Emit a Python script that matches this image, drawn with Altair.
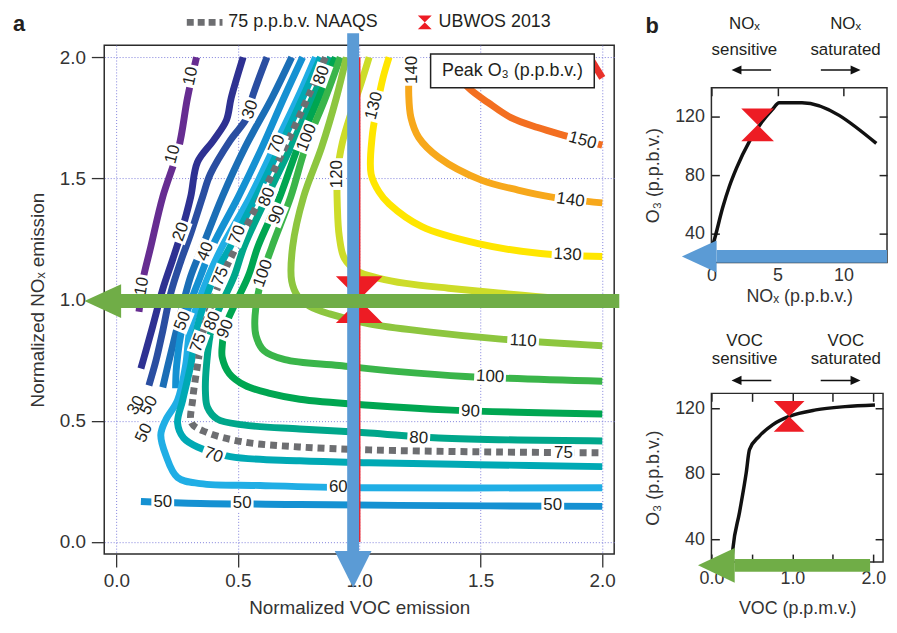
import altair as alt
import pandas as pd

FONT = "Liberation Sans"
INK = "#231f20"
AXC = "#333333"

# ---------------- panel a : peak O3 contour lines (normalized VOC, normalized NOx) ----------------
c10 = [(0.330, 2.000), (0.293, 1.833), (0.257, 1.628), (0.191, 1.424), (0.142, 1.219), (0.109, 1.080), (0.101, 1.010), (0.093, 0.950)]
c20 = [(0.522, 2.000), (0.473, 1.833), (0.453, 1.740), (0.400, 1.657), (0.334, 1.567), (0.306, 1.424), (0.265, 1.270), (0.232, 1.166), (0.191, 1.043), (0.150, 0.891), (0.122, 0.790), (0.101, 0.716)]
c30 = [(0.620, 2.000), (0.559, 1.833), (0.538, 1.751), (0.469, 1.657), (0.387, 1.518), (0.355, 1.424), (0.306, 1.272), (0.265, 1.158), (0.224, 1.027), (0.191, 0.871), (0.163, 0.748), (0.134, 0.646)]
c40 = [(0.722, 2.000), (0.641, 1.833), (0.530, 1.628), (0.436, 1.424), (0.355, 1.219), (0.306, 1.096), (0.252, 0.891), (0.212, 0.728), (0.191, 0.638)]
c50 = [(0.767, 2.000), (0.690, 1.833), (0.600, 1.628), (0.502, 1.424), (0.395, 1.219), (0.346, 1.096), (0.273, 0.891), (0.248, 0.728), (0.244, 0.634)]
c50_low = [(0.101, 0.167), (0.346, 0.159), (0.755, 0.155), (1.164, 0.151), (2.001, 0.147)]
c60 = [(0.820, 2.000), (0.747, 1.833), (0.649, 1.628), (0.551, 1.424), (0.436, 1.219), (0.379, 1.096), (0.306, 0.891), (0.285, 0.728), (0.252, 0.585), (0.203, 0.503), (0.183, 0.442), (0.203, 0.360), (0.252, 0.266), (0.346, 0.241), (0.592, 0.233), (1.000, 0.224), (2.001, 0.224)]
c70 = [(0.841, 2.000), (0.767, 1.833), (0.673, 1.628), (0.575, 1.424), (0.469, 1.219), (0.404, 1.096), (0.334, 0.891), (0.306, 0.728), (0.273, 0.585), (0.252, 0.491), (0.277, 0.429), (0.334, 0.392), (0.469, 0.352), (0.755, 0.335), (1.041, 0.327), (1.490, 0.319), (2.001, 0.311)]
c75 = [(0.861, 2.000), (0.788, 1.833), (0.694, 1.628), (0.596, 1.424), (0.494, 1.219), (0.436, 1.096), (0.363, 0.891), (0.334, 0.728), (0.314, 0.585), (0.310, 0.491), (0.367, 0.454), (0.522, 0.413), (0.755, 0.392), (1.041, 0.380), (1.490, 0.372), (2.001, 0.368)]
c80 = [(0.882, 2.000), (0.808, 1.833), (0.718, 1.628), (0.620, 1.424), (0.526, 1.219), (0.485, 1.096), (0.395, 0.891), (0.371, 0.728), (0.367, 0.613), (0.375, 0.556), (0.416, 0.507), (0.522, 0.483), (0.755, 0.466), (1.041, 0.450), (1.327, 0.429), (2.001, 0.417)]
c90 = [(0.902, 2.000), (0.833, 1.833), (0.747, 1.628), (0.673, 1.424), (0.583, 1.219), (0.543, 1.096), (0.449, 0.891), (0.436, 0.810), (0.436, 0.761), (0.465, 0.695), (0.530, 0.646), (0.632, 0.613), (0.755, 0.589), (1.041, 0.564), (1.380, 0.544), (2.001, 0.528)]
c100 = [(0.922, 2.000), (0.861, 1.833), (0.779, 1.628), (0.718, 1.424), (0.641, 1.219), (0.600, 1.096), (0.571, 0.933), (0.575, 0.851), (0.608, 0.789), (0.694, 0.752), (0.918, 0.728), (1.164, 0.703), (1.437, 0.683), (2.001, 0.663)]
c110 = [(0.947, 2.000), (0.906, 1.833), (0.845, 1.628), (0.771, 1.424), (0.726, 1.219), (0.722, 1.076), (0.747, 1.014), (0.796, 0.973), (0.878, 0.941), (1.041, 0.900), (1.286, 0.867), (1.572, 0.838), (2.001, 0.810)]
c120 = [(1.041, 2.000), (1.008, 1.894), (0.967, 1.772), (0.931, 1.649), (0.910, 1.518), (0.910, 1.383), (0.918, 1.260), (0.939, 1.170), (0.992, 1.117), (1.082, 1.088), (1.192, 1.067), (1.368, 1.047), (1.572, 1.027), (1.817, 1.006), (2.001, 0.994)]
c130 = [(1.123, 2.000), (1.098, 1.915), (1.074, 1.800), (1.053, 1.669), (1.049, 1.518), (1.082, 1.444), (1.123, 1.395), (1.258, 1.301), (1.490, 1.231), (1.747, 1.190), (2.001, 1.178)]
c140 = [(1.208, 2.000), (1.204, 1.845), (1.213, 1.751), (1.245, 1.669), (1.327, 1.587), (1.503, 1.493), (1.654, 1.452), (1.788, 1.424), (2.001, 1.399)]
c150 = [(1.347, 2.000), (1.450, 1.874), (1.531, 1.813), (1.625, 1.751), (1.735, 1.710), (1.829, 1.682), (2.001, 1.637)]
c160 = [(1.949, 2.000), (2.001, 1.915)]

contour_levels = ["10", "20", "30", "40", "50", "60", "70", "80", "90", "100", "110", "120", "130", "140", "150", "160"]
contour_colors = ["#662d91", "#2e3192", "#2a4ea1", "#1b6eb6", "#1591d2", "#20aee5", "#00a9b4", "#00a78b",
                  "#00a651", "#3ab54a", "#8dc63f", "#cddc29", "#ffe600", "#f7a81b", "#f36f21", "#e8312a"]

paths = [("10", "10", c10), ("20", "20", c20), ("30", "30", c30), ("40", "40", c40), ("50", "50", c50),
         ("50b", "50", c50_low), ("60", "60", c60), ("70", "70", c70), ("80", "80", c80), ("90", "90", c90),
         ("100", "100", c100), ("110", "110", c110), ("120", "120", c120), ("130", "130", c130),
         ("140", "140", c140), ("150", "150", c150), ("160", "160", c160)]

# contour labels
lab_text = ["10", "10", "10", "30", "20", "40", "70", "75", "70", "80", "80", "90", "100", "100", "120", "130", "140",
            "50", "80", "90", "75", "30", "50", "50", "70", "60", "50", "50", "50", "75", "80", "90", "100", "110",
            "120", "130", "140", "150"]
lab_x = [0.306, 0.232, 0.105, 0.551, 0.265, 0.367, 0.498, 0.428, 0.661, 0.845, 0.620, 0.661, 0.784, 0.604, 0.910,
         1.061, 1.217, 0.273, 0.395, 0.449, 0.338, 0.081, 0.134, 0.114, 0.400, 0.914, 0.191, 0.518, 1.797, 1.841,
         1.245, 1.458, 1.539, 1.675, 1.907, 1.858, 1.870, 1.920]
lab_y = [1.922, 1.600, 1.055, 1.784, 1.280, 1.199, 1.268, 1.096, 1.641, 1.927, 1.424, 1.350, 1.669, 1.108, 1.518,
         1.800, 1.948, 0.912, 0.912, 0.879, 0.822, 0.564, 0.564, 0.450, 0.359, 0.228, 0.163, 0.159, 0.151, 0.368,
         0.429, 0.539, 0.683, 0.830, 0.994, 1.186, 1.411, 1.657]
lab_ang = [282, 285, 280, 290, 290, 292, 292, 292, 292, 290, 292, 292, 292, 290, 270, 285, 270, 292, 292, 292, 290,
           300, 300, 295, 20, 0, 0, 0, 0, 0, 3, 3, 3, 3, 3, 3, 8, 15]

# UBWOS 2013 point in panel a
ubwos_voc = [1.0]
ubwos_nox = [1.0]

# ---------------- panel b ----------------
nox_ppb = [0.05, 0.25, 0.85, 1.37, 1.90, 2.88, 3.85, 4.61, 5.13, 6.86, 12.49]
nox_o3 = [30.0, 36.4, 57.5, 72.5, 84.8, 103.2, 116.8, 125.0, 129.8, 129.8, 101.8]
voc_ppm = [0.25, 0.265, 0.347, 0.43, 0.47, 0.59, 0.755, 0.96, 1.29, 1.65, 2.02]
voc_o3 = [26.0, 34.0, 56.3, 80.5, 94.6, 102.8, 109.8, 114.9, 118.9, 120.9, 121.9]
ubwos_nox_ppb, ubwos_nox_o3 = [3.5], [114.6]
ubwos_voc_ppm, ubwos_voc_o3 = [0.96], [114.9]

# ---------------- shapes ----------------
HOURGLASS = "M-1,-1L1,-1L-1,1L1,1Z"
TRI_DOWN = "M-1,-1L1,-1L0,1Z"
TRI_LEFT = "M1,-0.92L1,0.92L-1,0Z"
TRI_RIGHT = "M-1,-0.92L-1,0.92L1,0Z"
BOX2 = "M-1,-0.74L1,-0.74L1,0.74L-1,0.74Z"
BOX3 = "M-1,-0.53L1,-0.53L1,0.53L-1,0.53Z"

# ---------------- frames ----------------
rows = []
for seg, lev, pts in paths:
    for i, (x, y) in enumerate(pts):
        rows.append(dict(seg=seg, level=lev, i=i, x=x, y=y))
cdf = pd.DataFrame(rows)
df75 = pd.DataFrame({"i": range(len(c75)), "x": [p[0] for p in c75], "y": [p[1] for p in c75]})
ldf = pd.DataFrame({"t": lab_text, "x": lab_x, "y": lab_y, "ang": lab_ang})
ldf["n"] = ldf["t"].str.len().astype(str)
ldf["bs"] = ldf["n"].map({"2": 529, "3": 1024})


def P(**kw):
    return pd.DataFrame({k: (v if isinstance(v, list) else [v]) for k, v in kw.items()})


# ---------------- panel a chart ----------------
xA = alt.Scale(domain=[-0.05, 2.05], nice=False, zero=False)
yA = alt.Scale(domain=[-0.05, 2.05], nice=False, zero=False)

common_ax = dict(values=[0, 0.5, 1, 1.5, 2], format=".1f", tickSize=13, tickWidth=1.3, tickColor=AXC,
                 domain=False, grid=True, gridColor="#7f7fdc", gridDash=[1, 2], gridWidth=1,
                 labelFont=FONT, labelFontSize=19, labelColor=AXC, labelFlush=False,
                 titleFont=FONT, titleFontSize=19, titleFontWeight="normal", titleColor=AXC)
axAx = alt.Axis(title="Normalized VOC emission", labelPadding=5, titlePadding=8, **common_ax)
axAy = alt.Axis(title="Normalized NOₓ emission", labelPadding=6, titlePadding=12, **common_ax)


def XA(f="x"):
    return alt.X(f"{f}:Q", scale=xA, axis=axAx)


def YA(f="y"):
    return alt.Y(f"{f}:Q", scale=yA, axis=axAy)


contours = alt.Chart(cdf).mark_line(strokeWidth=7, interpolate="catmull-rom", strokeCap="butt").encode(
    x=XA(), y=YA(),
    color=alt.Color("level:N", scale=alt.Scale(domain=contour_levels, range=contour_colors), legend=None),
    detail="seg:N",
    order=alt.Order("i:Q"),
)
naaqs = alt.Chart(df75).mark_line(strokeWidth=7, strokeDash=[7, 5], color="#6d6e71",
                                  interpolate="catmull-rom", strokeCap="butt").encode(
    x=XA(), y=YA(), order=alt.Order("i:Q"))

red_line = alt.Chart(P(x=ubwos_voc, y=[0.0], y2=[2.0])).mark_rule(color="#ed1c24", strokeWidth=2.5).encode(
    x=XA(), y=YA(), y2="y2:Q")

lab_boxes = alt.Chart(ldf).mark_point(filled=True, color="white", opacity=1, strokeWidth=0).encode(
    x=XA(), y=YA(),
    shape=alt.Shape("n:N", scale=alt.Scale(domain=["2", "3"], range=[BOX2, BOX3]), legend=None),
    size=alt.Size("bs:Q", scale=None),
    angle=alt.Angle("ang:Q", scale=None),
)
lab_txt = alt.Chart(ldf).mark_text(font=FONT, fontSize=17, color=INK, align="center", baseline="middle").encode(
    x=XA(), y=YA(), text="t:N", angle=alt.Angle("ang:Q", scale=None))

peak_box = alt.Chart(P(x=1.294, x2=1.968, y=2.013, y2=1.874)).mark_rect(
    fill="white", stroke="#222222", strokeWidth=1.5).encode(x=XA(), x2="x2:Q", y=YA(), y2="y2:Q")
peak_txt = alt.Chart(P(x=1.631, y=1.942, t="Peak O₃ (p.p.b.v.)")).mark_text(
    font=FONT, fontSize=18, color=INK, align="center", baseline="middle").encode(x=XA(), y=YA(), text="t:N")

ubwos_a = alt.Chart(P(x=ubwos_voc, y=ubwos_nox)).mark_point(
    shape=HOURGLASS, filled=True, color="#ed1c24", size=2209, opacity=1, strokeWidth=0).encode(x=XA(), y=YA())

# annotation arrows (shafts as filled rects, heads as triangles)
blue_shaft = alt.Chart(P(x=0.9505, x2=0.9995, y=2.099, y2=-0.066)).mark_rect(color="#5b9bd5").encode(
    x=XA(), x2="x2:Q", y=YA(), y2="y2:Q")
blue_head = alt.Chart(P(x=0.975, y=-0.113)).mark_point(
    shape=TRI_DOWN, filled=True, color="#5b9bd5", size=1369, opacity=1, strokeWidth=0).encode(x=XA(), y=YA())
green_shaft = alt.Chart(P(x=0.011, x2=2.071, y=1.023, y2=0.965)).mark_rect(color="#70ad47").encode(
    x=XA(), x2="x2:Q", y=YA(), y2="y2:Q")
green_head = alt.Chart(P(x=-0.056, y=0.994)).mark_point(
    shape=TRI_LEFT, filled=True, color="#70ad47", size=1369, opacity=1, strokeWidth=0).encode(x=XA(), y=YA())

leg_dots = alt.Chart(P(x=0.290, x2=0.437, y=2.144)).mark_rule(
    color="#6d6e71", strokeWidth=7, strokeDash=[7, 4]).encode(x=XA(), x2="x2:Q", y=YA())
leg_txt = alt.Chart(P(x=[0.461, 1.327], y=[2.144, 2.144], t=["75 p.p.b.v. NAAQS", "UBWOS 2013"])).mark_text(
    font=FONT, fontSize=18, color=INK, align="left", baseline="middle").encode(x=XA(), y=YA(), text="t:N")
leg_hg = alt.Chart(P(x=1.270, y=2.144)).mark_point(
    shape=HOURGLASS, filled=True, color="#ed1c24", size=196, opacity=1, strokeWidth=0).encode(x=XA(), y=YA())
tag_a = alt.Chart(P(x=-0.401, y=2.136, t="a")).mark_text(
    font=FONT, fontSize=22, fontWeight="bold", color=INK, align="center", baseline="middle").encode(
    x=XA(), y=YA(), text="t:N")
anch_a = alt.Chart(P(x=[-0.438, 2.103], y=[2.185, 1.0])).mark_point(
    filled=True, opacity=0, size=1).encode(x=XA(), y=YA())

panel_a = alt.layer(contours, naaqs, red_line, lab_boxes, lab_txt, peak_box, peak_txt, ubwos_a,
                    blue_shaft, blue_head, green_shaft, green_head, leg_dots, leg_txt, leg_hg, tag_a,
                    anch_a).properties(width=514, height=513)


# ---------------- panel b charts ----------------
def b_axes(xvals, yvals, xtitle, ytitle, xlabpad, xtitlepad, label_expr=None):
    base = dict(offset=-8, tickSize=8, tickWidth=1.5, tickColor="#222222", domain=False, grid=False,
                labelFont=FONT, labelFontSize=18, labelColor=AXC, labelFlush=False, minExtent=0,
                titleFont=FONT, titleFontSize=18, titleFontWeight="normal", titleColor=AXC)
    xkw = dict(orient="bottom", values=xvals, labelPadding=xlabpad, title=xtitle, titlePadding=xtitlepad, **base)
    if label_expr:
        xkw["labelExpr"] = label_expr
    ax_x = alt.Axis(**xkw)
    ax_y = alt.Axis(orient="left", values=yvals, labelPadding=7, title=ytitle, titlePadding=12, **base)
    tk = dict(offset=-8, tickSize=8, tickWidth=1.5, tickColor="#222222", domain=False, grid=False,
              labels=False, title=None, minExtent=0, maxExtent=0)
    ax_top = alt.Axis(orient="top", values=xvals, **tk)
    ax_right = alt.Axis(orient="right", values=yvals, **tk)
    return ax_x, ax_y, ax_top, ax_right


def small_arrows(xs, ys, X, Y):
    parts = []
    for (t0, t1, hx, shape) in xs:
        parts.append(alt.Chart(P(x=t0, x2=t1, y=ys)).mark_rule(color="#111111", strokeWidth=1.5).encode(
            x=X(), x2="x2:Q", y=Y()))
        parts.append(alt.Chart(P(x=hx, y=ys)).mark_point(
            shape=shape, filled=True, color="#111111", size=100, opacity=1, strokeWidth=0).encode(x=X(), y=Y()))
    return parts


# header strip above b (top): regime labels
xS = alt.Scale(domain=[0, 13.3], nice=False, zero=False)
yS = alt.Scale(domain=[0, 30], nice=False, zero=False)


def XS(f="x"):
    return alt.X(f"{f}:Q", scale=xS, axis=None)


def YS(f="y"):
    return alt.Y(f"{f}:Q", scale=yS, axis=None)


s_txt = alt.Chart(P(x=[2.5, 2.5, 10.16, 10.16], y=[51.0, 25.0, 51.0, 25.0],
                    t=["NOₓ", "sensitive", "NOₓ", "saturated"])).mark_text(
    font=FONT, fontSize=17, color=INK, align="center", baseline="middle").encode(x=XS(), y=YS(), text="t:N")
s_arrows = small_arrows([(4.52, 1.90, 1.90, TRI_LEFT), (8.29, 10.92, 10.92, TRI_RIGHT)], 5.0, XS, YS)
tag_b = alt.Chart(P(x=-4.49, y=49.0, t="b")).mark_text(
    font=FONT, fontSize=22, fontWeight="bold", color=INK, align="center", baseline="middle").encode(
    x=XS(), y=YS(), text="t:N")
header_b = alt.layer(s_txt, *s_arrows, tag_b).properties(
    width=177, height=30, view=alt.ViewBackground(strokeOpacity=0))

# b (top): O3 versus NOx
xB1 = alt.Scale(domain=[0, 13.3], nice=False, zero=False)
yB1 = alt.Scale(domain=[20, 140], nice=False, zero=False)
ax1 = b_axes([0, 5, 10], [40, 80, 120], "NOₓ (p.p.b.v.)", "O₃ (p.p.b.v.)", 4, 3)


def X1(f="x"):
    return alt.X(f"{f}:Q", scale=xB1, axis=None)


def Y1(f="y"):
    return alt.Y(f"{f}:Q", scale=yB1, axis=None)


nox_df = pd.DataFrame({"x": nox_ppb, "y": nox_o3})
b1_curve = alt.Chart(nox_df).mark_line(color="#111111", strokeWidth=3.5, interpolate="monotone").encode(
    x=alt.X("x:Q", scale=xB1, axis=ax1[0]), y=alt.Y("y:Q", scale=yB1, axis=ax1[1]))
b1_frame = alt.Chart(nox_df).mark_point(opacity=0, size=1).encode(
    x=alt.X("x:Q", scale=xB1, axis=ax1[2]), y=alt.Y("y:Q", scale=yB1, axis=ax1[3]))
b1_hg = alt.Chart(P(x=ubwos_nox_ppb, y=ubwos_nox_o3)).mark_point(
    shape=HOURGLASS, filled=True, color="#ed1c24", size=1089, opacity=1, strokeWidth=0).encode(x=X1(), y=Y1())
b1_shaft = alt.Chart(P(x=0.40, x2=13.3, y=28.5, y2=19.7)).mark_rect(color="#5b9bd5").encode(
    x=X1(), x2="x2:Q", y=Y1(), y2="y2:Q")
b1_head = alt.Chart(P(x=-0.92, y=24.1)).mark_point(
    shape=TRI_LEFT, filled=True, color="#5b9bd5", size=1225, opacity=1, strokeWidth=0).encode(x=X1(), y=Y1())
anch_b1 = alt.Chart(P(x=[-5.38, 0.0], y=[50.0, -12.7])).mark_point(
    filled=True, opacity=0, size=1).encode(x=X1(), y=Y1())

panel_b1 = alt.layer(b1_curve, b1_frame, b1_hg, b1_shaft, b1_head,
                     anch_b1).properties(width=177, height=176).resolve_axis(x="independent", y="independent")

# b (bottom): O3 versus VOC
xB2 = alt.Scale(domain=[0, 2.12], nice=False, zero=False)
yB2 = alt.Scale(domain=[26, 129], nice=False, zero=False)
ax2 = b_axes([0, 0.5, 1, 1.5, 2], [40, 80, 120], "VOC (p.p.m.v.)", "O₃ (p.p.b.v.)", 8, 12,
             label_expr="datum.value % 1 == 0 ? format(datum.value, '.1f') : ''")


def X2(f="x"):
    return alt.X(f"{f}:Q", scale=xB2, axis=None)


def Y2(f="y"):
    return alt.Y(f"{f}:Q", scale=yB2, axis=None)


voc_df = pd.DataFrame({"x": voc_ppm, "y": voc_o3})
b2_curve = alt.Chart(voc_df).mark_line(color="#111111", strokeWidth=3.5, interpolate="monotone").encode(
    x=alt.X("x:Q", scale=xB2, axis=ax2[0]), y=alt.Y("y:Q", scale=yB2, axis=ax2[1]))
b2_frame = alt.Chart(voc_df).mark_point(opacity=0, size=1).encode(
    x=alt.X("x:Q", scale=xB2, axis=ax2[2]), y=alt.Y("y:Q", scale=yB2, axis=ax2[3]))
b2_hg = alt.Chart(P(x=ubwos_voc_ppm, y=ubwos_voc_o3)).mark_point(
    shape=HOURGLASS, filled=True, color="#ed1c24", size=961, opacity=1, strokeWidth=0).encode(x=X2(), y=Y2())
b2_shaft = alt.Chart(P(x=0.285, x2=1.96, y=27.9, y2=20.0)).mark_rect(color="#70ad47").encode(
    x=X2(), x2="x2:Q", y=Y2(), y2="y2:Q")
b2_head = alt.Chart(P(x=0.061, y=23.96)).mark_point(
    shape="M1,-0.95L1,0.95L-1,0Z", filled=True, color="#70ad47", size=1369, opacity=1, strokeWidth=0).encode(
    x=X2(), y=Y2())
b2_txt = alt.Chart(P(x=[0.41, 0.41, 1.66, 1.66], y=[161.1, 150.2, 161.1, 150.2],
                     t=["VOC", "sensitive", "VOC", "saturated"])).mark_text(
    font=FONT, fontSize=17, color=INK, align="center", baseline="middle").encode(x=X2(), y=Y2(), text="t:N")
b2_arrows = small_arrows([(0.74, 0.31, 0.31, TRI_LEFT), (1.35, 1.78, 1.78, TRI_RIGHT)], 136.9, X2, Y2)
anch_b2 = alt.Chart(P(x=[-0.879], y=[170.8])).mark_point(filled=True, opacity=0, size=1).encode(x=X2(), y=Y2())

panel_b2 = alt.layer(b2_curve, b2_frame, b2_hg, b2_shaft, b2_head, b2_txt, *b2_arrows,
                     anch_b2).properties(width=173, height=170).resolve_axis(x="independent", y="independent")

right = alt.vconcat(header_b, panel_b1, panel_b2, spacing=11)
chart = alt.hconcat(panel_a, right, spacing=10).properties(
    padding={"left": 0, "top": 0, "right": 0, "bottom": 0},
    autosize=alt.AutoSizeParams(type="pad"),
).configure(padding={"left": 0, "top": 0, "right": 0, "bottom": 0}).configure_view(
    stroke="#2b2b2b", strokeWidth=1.5)

chart.save("out.html", embed_options={"renderer": "svg", "actions": False})
